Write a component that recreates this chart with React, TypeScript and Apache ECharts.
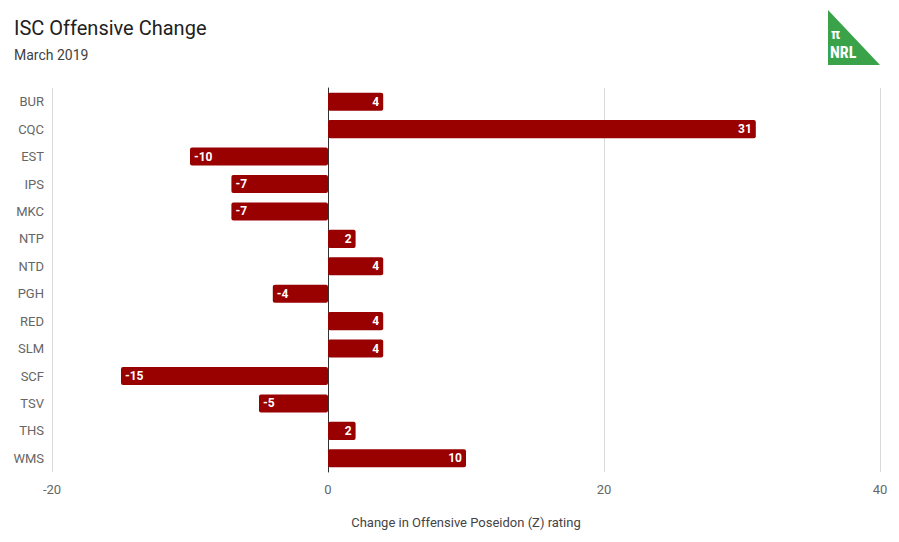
import React, { useEffect, useRef } from "react";
import * as echarts from "echarts";

const categories = ["BUR", "CQC", "EST", "IPS", "MKC", "NTP", "NTD", "PGH", "RED", "SLM", "SCF", "TSV", "THS", "WMS"];
const values = [4, 31, -10, -7, -7, 2, 4, -4, 4, 4, -15, -5, 2, 10];
const xTicks = [-20, 0, 20, 40];

export default function App() {
  const ref = useRef<HTMLDivElement>(null);
  useEffect(() => {
    const chart = echarts.init(ref.current!, undefined, { renderer: "svg" });
    chart.setOption({
      animation: false,
      textStyle: { fontFamily: "Roboto" },
      title: {
        text: "ISC Offensive Change",
        subtext: "March 2019",
        left: 1,
        top: 5,
        itemGap: 10,
        textStyle: { fontFamily: "Roboto", fontSize: 20, fontWeight: "normal", color: "#212121" },
        subtextStyle: { fontFamily: "Roboto", fontSize: 14, color: "#424242" },
      },
      graphic: [
        {
          type: "polygon",
          shape: { points: [[820, 2], [820, 57], [872, 57]] },
          style: { fill: "#3aa34a" },
        },
        {
          type: "text",
          x: 823,
          y: 19,
          style: { text: "π", fill: "#fff", font: "bold 14px Roboto" },
        },
        {
          type: "text",
          x: 822,
          y: 36,
          style: { text: "NRL", fill: "#fff", font: "bold 16px 'Roboto Condensed', Roboto" },
        },
      ],
      grid: { left: 44, right: 11, top: 80, bottom: 55, containLabel: false },
      xAxis: {
        type: "value",
        min: -20,
        max: 40,
        interval: 20,
        name: "Change in Offensive Poseidon (Z) rating",
        nameLocation: "middle",
        nameGap: 44,
        nameTextStyle: { fontFamily: "Roboto", fontSize: 13, color: "#444" },
        axisLine: { show: false },
        axisTick: { show: false },
        axisLabel: { color: "#666", fontSize: 13, margin: 11, formatter: (v: number) => (xTicks.includes(v) ? String(v) : "") },
        splitLine: { show: true, lineStyle: { color: "#d9d9d9", width: 1 } },
      },
      yAxis: {
        type: "category",
        data: categories,
        inverse: true,
        axisLine: { show: true, onZero: true, lineStyle: { color: "#333", width: 1 } },
        axisTick: { show: false },
        axisLabel: { color: "#666", fontSize: 13, margin: 8 },
        position: "left",
      },
      series: [
        {
          type: "bar",
          data: values.map((v) => ({
            value: v,
            label: { position: v >= 0 ? "insideRight" : "insideLeft" },
          })),
          barCategoryGap: "34%",
          itemStyle: { color: "#990000", borderRadius: 2 },
          label: {
            show: true,
            color: "#fff",
            fontWeight: "bold",
            fontSize: 12,
            fontFamily: "Roboto",
            distance: 4,
          },
        },
      ],
    });
    return () => chart.dispose();
  }, []);
  return <div ref={ref} style={{ width: 883, height: 526 }} />;
}
